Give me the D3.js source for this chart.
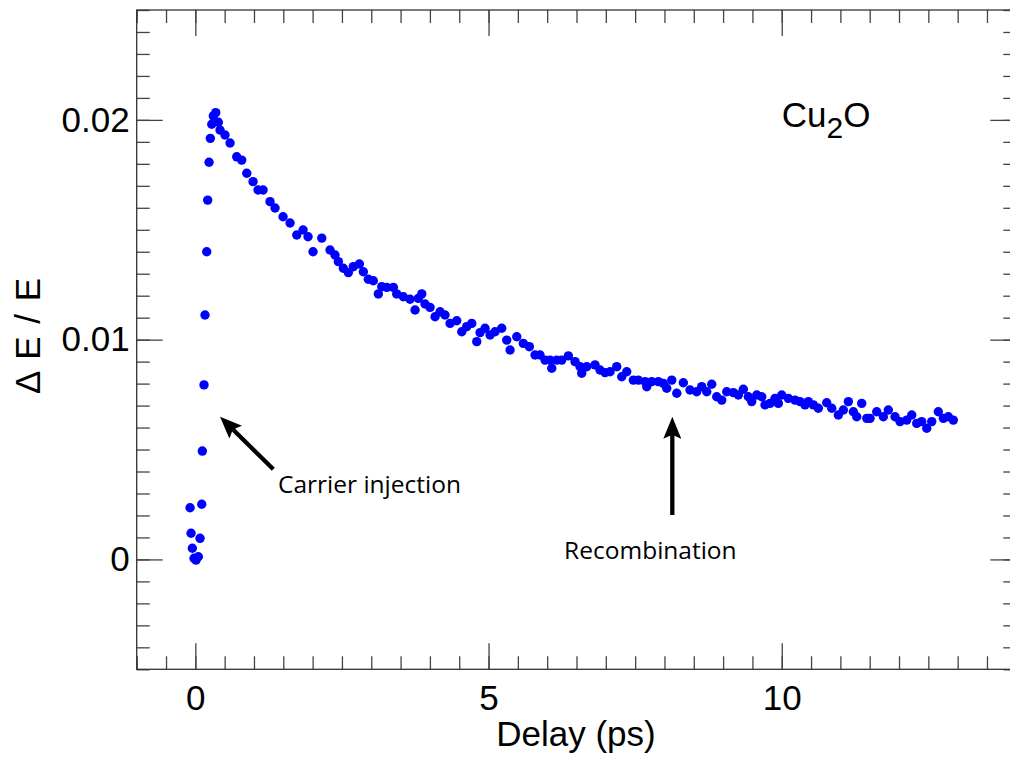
<!DOCTYPE html>
<html>
<head>
<meta charset="utf-8">
<script src="https://cdn.jsdelivr.net/npm/d3@7"></script>
<style>
  html, body { margin: 0; padding: 0; background: #fff; }
  svg { display: block; }
  .tick text { font-family: "Liberation Sans", Arial, Helvetica, sans-serif; font-size: 35px; fill: #000; }
</style>
</head>
<body>
<div id="chart"></div>
<script>
// delay (ps) and dE/E
const delay = [
  -0.090, -0.073, -0.051, -0.022, 0.012, 0.051, 0.080, 0.109, 0.119, 0.148,
  0.165, 0.194, 0.211, 0.234, 0.256, 0.280, 0.307, 0.348, 0.392,
  0.421, 0.506, 0.592, 0.706, 0.791, 0.877, 0.984, 1.069, 1.155, 1.274,
  1.359, 1.496, 1.615, 1.729, 1.837, 1.922, 2.007, 2.156, 2.297, 2.382,
  2.439, 2.524, 2.609, 2.694, 2.797, 2.865, 2.950, 3.035, 3.121, 3.179,
  3.264, 3.377, 3.434, 3.547, 3.661, 3.747, 3.803, 3.861, 3.917, 4.002,
  4.088, 4.173, 4.258, 4.344, 4.458, 4.543, 4.628, 4.714, 4.799, 4.855,
  4.940, 5.026, 5.111, 5.225, 5.310, 5.367, 5.481, 5.593, 5.696,
  5.793, 5.878, 5.964, 6.049, 6.078, 6.163, 6.248, 6.361, 6.475, 6.560,
  6.589, 6.675, 6.816, 6.901, 6.987, 7.072, 7.186, 7.272, 7.357, 7.469,
  7.555, 7.669, 7.698, 7.783, 7.896, 7.981, 8.039, 8.124, 8.210, 8.322,
  8.436, 8.550, 8.636, 8.721, 8.806, 8.891,
  8.977, 9.062, 9.175, 9.260, 9.345, 9.430, 9.488, 9.574, 9.659, 9.715,
  9.800, 9.886, 9.942, 10.000, 10.113, 10.227, 10.312, 10.397, 10.454, 10.539,
  10.624, 10.767, 10.853, 10.965, 11.051, 11.136, 11.221, 11.279, 11.364, 11.450,
  11.506, 11.620, 11.733, 11.818, 11.932, 12.017, 12.131, 12.217, 12.302, 12.387,
  12.473, 12.558, 12.670, 12.756, 12.841, 12.926
];
const deltaE = [
  0.00235, 0.00119, 0.00051, 0.00005, -0.00003, 0.00012, 0.00096, 0.00251, 0.00493, 0.00794,
  0.01112, 0.01400, 0.01635, 0.01807, 0.01916, 0.01980, 0.02018, 0.02033, 0.01989,
  0.01954, 0.01931, 0.01895, 0.01832, 0.01817, 0.01757, 0.01719, 0.01681, 0.01681, 0.01628,
  0.01599, 0.01559, 0.01531, 0.01476, 0.01499, 0.01468, 0.01400, 0.01462, 0.01408, 0.01385,
  0.01355, 0.01325, 0.01305, 0.01332, 0.01344, 0.01309, 0.01275, 0.01268, 0.01208, 0.01241,
  0.01238, 0.01238, 0.01208, 0.01195, 0.01184, 0.01135, 0.01188, 0.01208, 0.01162, 0.01147,
  0.01104, 0.01127, 0.01112, 0.01074, 0.01086, 0.01036, 0.01059, 0.01074, 0.00991, 0.01032,
  0.01052, 0.01021, 0.01036, 0.01052, 0.00998, 0.00953, 0.01013, 0.00983, 0.00968,
  0.00930, 0.00930, 0.00907, 0.00907, 0.00870, 0.00907, 0.00907, 0.00926, 0.00900, 0.00877,
  0.00847, 0.00877, 0.00885, 0.00862, 0.00850, 0.00854, 0.00877, 0.00831, 0.00854, 0.00816,
  0.00816, 0.00809, 0.00786, 0.00809, 0.00809, 0.00801, 0.00779, 0.00816, 0.00756, 0.00804,
  0.00771, 0.00763, 0.00786, 0.00763, 0.00797, 0.00740,
  0.00725, 0.00763, 0.00759, 0.00748, 0.00774, 0.00740, 0.00718, 0.00748, 0.00740, 0.00703,
  0.00710, 0.00733, 0.00710, 0.00748, 0.00733, 0.00725, 0.00718, 0.00703, 0.00718, 0.00703,
  0.00688, 0.00713, 0.00688, 0.00657, 0.00680, 0.00718, 0.00672, 0.00649, 0.00710, 0.00642,
  0.00642, 0.00672, 0.00649, 0.00680, 0.00649, 0.00627, 0.00634, 0.00657, 0.00619, 0.00627,
  0.00597, 0.00627, 0.00672, 0.00642, 0.00649, 0.00634
];

const xMajor = [0, 5, 10];
const xLabels = ["0", "5", "10"];
const yMajor = [0, 0.01, 0.02];
const yLabels = ["0", "0.01", "0.02"];

const notes = [
  { text: "Carrier injection", x: 2.97, y: 0.00302 },
  { text: "Recombination", x: 7.76, y: 0.0 }
];
const arrows = [
  { from: [1.33, 0.0041], to: [0.421, 0.00649] },
  { from: [8.134, 0.00202], to: [8.134, 0.00649] }
];

const width = 1010, height = 759;
const plot = { left: 136.7, right: 1016.3, top: 10, bottom: 669.3 };

const x = d3.scaleLinear().domain([-1, 14]).range([plot.left, plot.right]);
const y = d3.scaleLinear().domain([-0.005, 0.025]).range([plot.bottom, plot.top]);

const xMinor = d3.range(-1, 14.01, 0.5);
const yMinor = d3.range(-5, 25.5, 1).map(d => d / 1000);

const svg = d3.select("#chart").append("svg")
  .attr("width", width)
  .attr("height", height)
  .attr("viewBox", `0 0 ${width} ${height}`);

const defs = svg.append("defs");
defs.append("marker")
  .attr("id", "head")
  .attr("markerUnits", "userSpaceOnUse")
  .attr("viewBox", "0 0 22 18")
  .attr("refX", 12)
  .attr("refY", 9)
  .attr("markerWidth", 22)
  .attr("markerHeight", 18)
  .attr("orient", "auto")
  .append("path")
  .attr("d", "M0,0 L22,9 L0,18 L4,9 Z")
  .attr("fill", "#000");

function styleTicks(g) {
  g.select(".domain").remove();
  g.selectAll(".tick line").attr("stroke", "#444").attr("stroke-width", 1.3);
}

// bottom
svg.append("g").attr("transform", `translate(0,${plot.bottom})`)
  .call(d3.axisBottom(x).tickValues(xMinor).tickSize(-13).tickSizeOuter(0).tickFormat(""))
  .call(styleTicks);
svg.append("g").attr("transform", `translate(0,${plot.bottom})`)
  .call(d3.axisBottom(x).tickValues(xMajor).tickSize(-26).tickSizeOuter(0).tickPadding(16)
    .tickFormat((d, i) => xLabels[i]))
  .call(styleTicks);

// top
svg.append("g").attr("transform", `translate(0,${plot.top})`)
  .call(d3.axisTop(x).tickValues(xMinor).tickSize(-13).tickSizeOuter(0).tickFormat(""))
  .call(styleTicks);
svg.append("g").attr("transform", `translate(0,${plot.top})`)
  .call(d3.axisTop(x).tickValues(xMajor).tickSize(-26).tickSizeOuter(0).tickFormat(""))
  .call(styleTicks);

// left
svg.append("g").attr("transform", `translate(${plot.left},0)`)
  .call(d3.axisLeft(y).tickValues(yMinor).tickSize(-13).tickSizeOuter(0).tickFormat(""))
  .call(styleTicks);
svg.append("g").attr("transform", `translate(${plot.left},0)`)
  .call(d3.axisLeft(y).tickValues(yMajor).tickSize(-26).tickSizeOuter(0).tickPadding(7)
    .tickFormat((d, i) => yLabels[i]))
  .call(styleTicks);

// right
svg.append("g").attr("transform", `translate(${plot.right},0)`)
  .call(d3.axisRight(y).tickValues(yMinor).tickSize(-13).tickSizeOuter(0).tickFormat(""))
  .call(styleTicks);
svg.append("g").attr("transform", `translate(${plot.right},0)`)
  .call(d3.axisRight(y).tickValues(yMajor).tickSize(-26).tickSizeOuter(0).tickFormat(""))
  .call(styleTicks);

// frame
svg.append("rect")
  .attr("x", plot.left)
  .attr("y", plot.top)
  .attr("width", plot.right - plot.left)
  .attr("height", plot.bottom - plot.top)
  .attr("fill", "none")
  .attr("stroke", "#333")
  .attr("stroke-width", 1.3);

// data
const points = d3.zip(delay, deltaE);
svg.append("g")
  .selectAll("circle")
  .data(points)
  .join("circle")
  .attr("cx", d => x(d[0]))
  .attr("cy", d => y(d[1]))
  .attr("r", 4.7)
  .attr("fill", "#0000ff");

// axis titles
svg.append("text")
  .attr("x", 576)
  .attr("y", 746)
  .attr("text-anchor", "middle")
  .style("font-family", '"Liberation Sans", Arial, sans-serif')
  .style("font-size", "35px")
  .text("Delay (ps)");

svg.append("text")
  .attr("transform", "translate(40,336) rotate(-90)")
  .attr("text-anchor", "middle")
  .style("font-family", '"Liberation Sans", Arial, sans-serif')
  .style("font-size", "35px")
  .style("word-spacing", "3px")
  .text("Δ E / E");

// Cu2O label
const cu = svg.append("text")
  .attr("x", x(10.0))
  .attr("y", y(0.01968))
  .style("font-family", '"Liberation Sans", Arial, sans-serif')
  .style("font-size", "35px");
cu.append("tspan").text("Cu");
cu.append("tspan").attr("dy", 11).style("font-size", "30px").text("2");
cu.append("tspan").attr("dy", -11).text("O");

// annotations
arrows.forEach(a => {
  const x1 = x(a.from[0]), y1 = y(a.from[1]);
  const x2 = x(a.to[0]), y2 = y(a.to[1]);
  const len = Math.hypot(x2 - x1, y2 - y1);
  const back = 10;
  svg.append("line")
    .attr("x1", x1)
    .attr("y1", y1)
    .attr("x2", x2 - (x2 - x1) / len * back)
    .attr("y2", y2 - (y2 - y1) / len * back)
    .attr("stroke", "#000")
    .attr("stroke-width", 4.3)
    .attr("marker-end", "url(#head)");
});

svg.append("g")
  .selectAll("text")
  .data(notes)
  .join("text")
  .attr("x", d => x(d.x))
  .attr("y", d => y(d.y))
  .attr("text-anchor", "middle")
  .style("font-family", '"Open Sans", "DejaVu Sans", sans-serif')
  .style("font-size", "24.5px")
  .style("fill", "#000")
  .text(d => d.text);
</script>
</body>
</html>
